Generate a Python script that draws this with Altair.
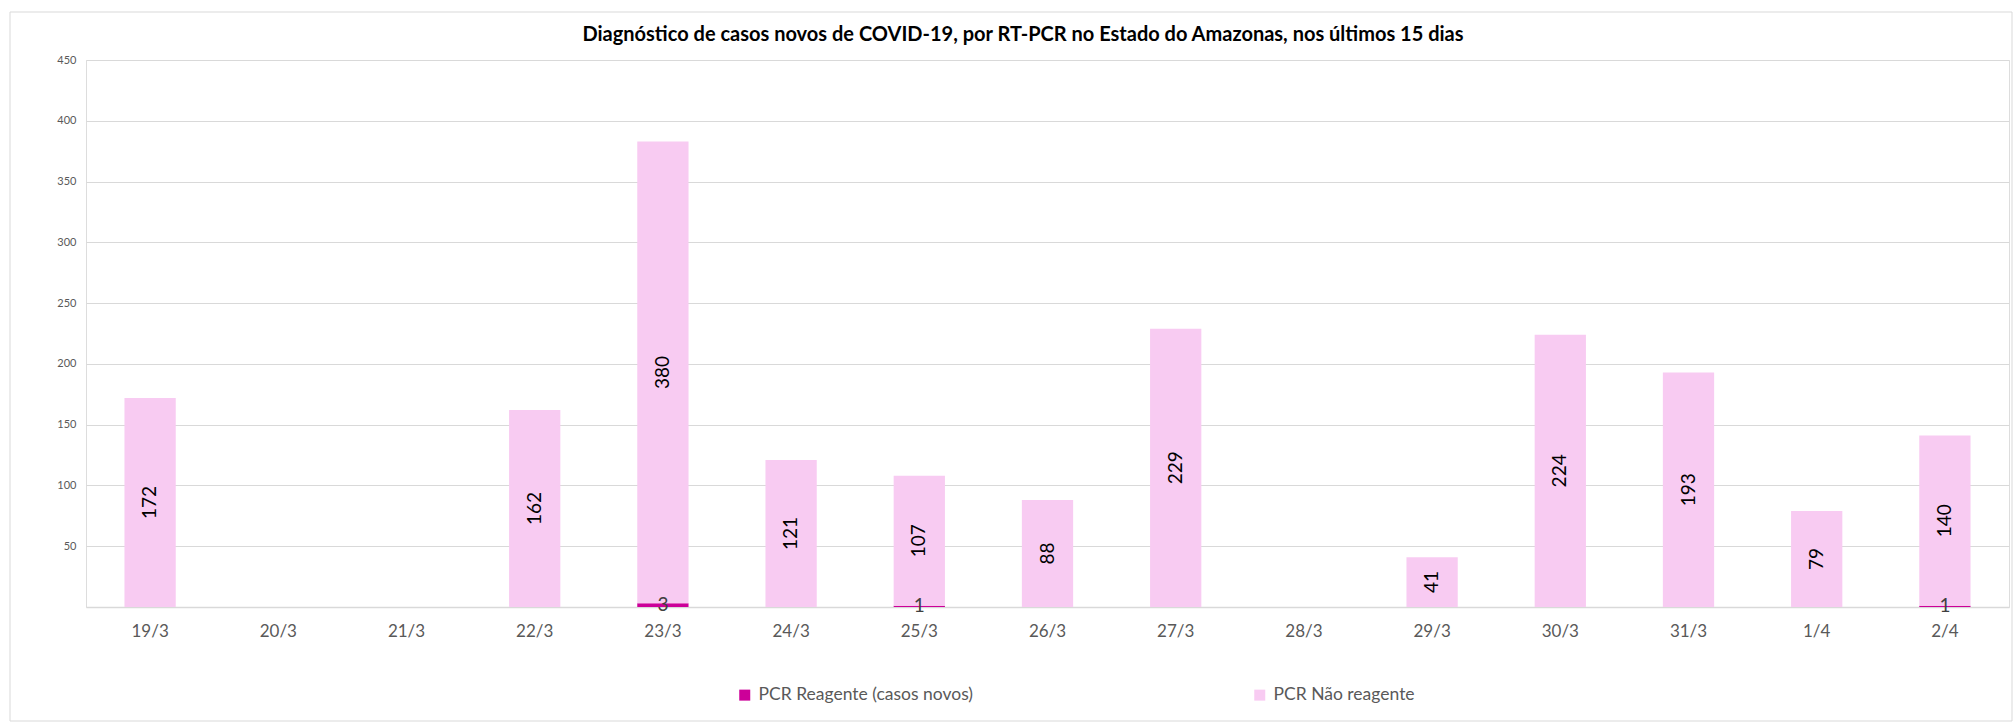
import altair as alt
import pandas as pd

dates = ["19/3", "20/3", "21/3", "22/3", "23/3", "24/3", "25/3", "26/3",
         "27/3", "28/3", "29/3", "30/3", "31/3", "1/4", "2/4"]
reagente = [0, 0, 0, 0, 3, 0, 1, 0, 0, 0, 0, 0, 0, 0, 1]
nao_reagente = [172, 0, 0, 162, 380, 121, 107, 88, 229, 0, 41, 224, 193, 79, 140]
series = ["PCR Reagente (casos novos)", "PCR Não reagente"]
colors = ["#CC0099", "#F8CBF2"]
y_ticks = [50, 100, 150, 200, 250, 300, 350, 400, 450]
title_text = "Diagnóstico de casos novos de COVID-19, por RT-PCR no Estado do Amazonas, nos últimos 15 dias"

rows = []
for i, d in enumerate(dates):
    rows.append({"date": d, "serie": series[0], "ord": 0, "value": reagente[i]})
    rows.append({"date": d, "serie": series[1], "ord": 1, "value": nao_reagente[i]})
df = pd.DataFrame(rows)

FONT = "Lato"
W, H = 1923, 547

x_enc = alt.X("date:N", sort=dates, title=None,
              scale=alt.Scale(paddingInner=0.6, paddingOuter=0.3),
              axis=alt.Axis(labelAngle=0, labelFontSize=17, labelColor="#595959",
                            labelFont=FONT, labelPadding=16, ticks=False,
                            domainColor="#D9D9D9", domainWidth=1.5, grid=False))
y_scale = alt.Scale(domain=[0, 450], nice=False)

base = alt.Chart(df)

bars = base.mark_bar(stroke=None).encode(
    x=x_enc,
    y=alt.Y("value:Q", stack="zero", scale=y_scale, title=None,
            axis=alt.Axis(values=y_ticks, labelFontSize=11, labelColor="#595959",
                          labelFont=FONT, labelPadding=10, ticks=False, domain=False,
                          gridColor="#D9D9D9", gridWidth=1)),
    color=alt.Color("serie:N", scale=alt.Scale(domain=series, range=colors),
                    legend=alt.Legend(title=None, orient="none", direction="horizontal",
                                      legendX=650, legendY=626,
                                      symbolType="square", symbolSize=121,
                                      symbolStrokeWidth=0, symbolOpacity=1,
                                      labelFont=FONT, labelFontSize=17.5,
                                      labelColor="#595959", columnPadding=277,
                                      labelOffset=5, labelLimit=500)),
    order=alt.Order("ord:Q"),
)

stacked = base.transform_stack(
    stack="value", groupby=["date"], as_=["y0", "y1"],
    sort=[alt.SortField("ord", order="ascending")]
).transform_calculate(mid="(datum.y0 + datum.y1) / 2").transform_filter("datum.value > 0")

labels_nao = stacked.transform_filter("datum.ord == 1").mark_text(
    angle=270, align="center", baseline="middle", fontSize=19, font=FONT, color="#000000"
).encode(x=alt.X("date:N", sort=dates), y=alt.Y("mid:Q", scale=y_scale), text="value:Q")

labels_rea = stacked.transform_filter("datum.ord == 0").mark_text(
    align="center", baseline="middle", fontSize=19, font=FONT, color="#404040"
).encode(x=alt.X("date:N", sort=dates), y=alt.Y("mid:Q", scale=y_scale), text="value:Q")

one = pd.DataFrame({"t": [title_text]})

frame = alt.Chart(one).mark_rect(
    fill=None, stroke="#D9D9D9", strokeWidth=1
).encode(x=alt.value(-76), x2=alt.value(1926), y=alt.value(-48), y2=alt.value(661))

title_mark = alt.Chart(one).mark_text(
    font=FONT, fontSize=20, fontWeight="bold", color="#000000",
    align="center", baseline="alphabetic"
).encode(x=alt.value(937), y=alt.value(-19), text="t:N")

chart = alt.layer(frame, bars, labels_nao, labels_rea, title_mark).properties(
    width=W, height=H,
    padding={"left": 86, "top": 60, "right": 6, "bottom": 117},
    autosize=alt.AutoSizeParams(type="none"),
).configure_view(stroke=None).configure(background="white")

chart.save("out.html", embed_options={"renderer": "svg", "actions": False})
